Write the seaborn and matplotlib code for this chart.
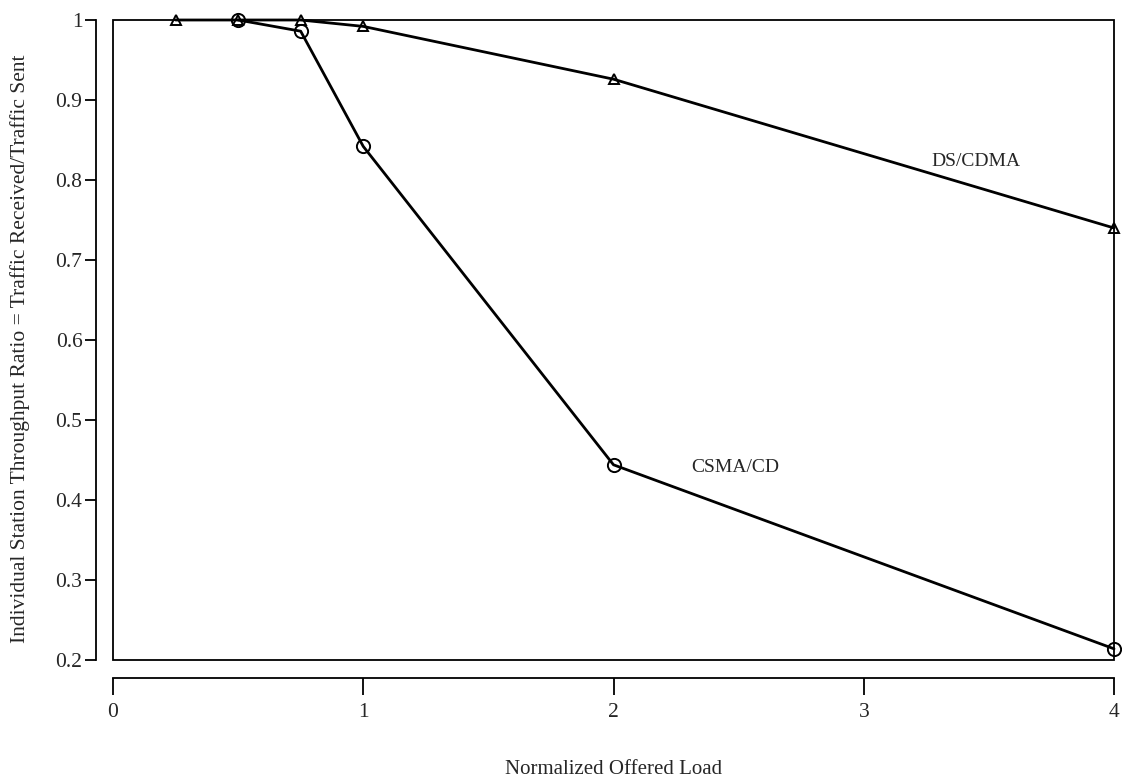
import numpy as np
import pandas as pd
import matplotlib
matplotlib.use("Agg")
import matplotlib.pyplot as plt
import seaborn as sns
from matplotlib.patches import Rectangle
from matplotlib.ticker import FuncFormatter

# Data
ds_load = [0.25, 0.5, 0.75, 1.0, 2.0, 4.0]
ds_ratio = [1.0, 1.0, 1.0, 0.992, 0.926, 0.740]
csma_load = [0.5, 0.75, 1.0, 2.0, 4.0]
csma_ratio = [1.0, 0.986, 0.842, 0.444, 0.214]
x_ticks = [0, 1, 2, 3, 4]
y_ticks = [0.2, 0.3, 0.4, 0.5, 0.6, 0.7, 0.8, 0.9, 1.0]

sns.set_style("white")
plt.rcParams['font.family'] = ['Liberation Serif', 'DejaVu Serif']

W, H = 1122, 780
L, R, T, B = 113, 1114, 20, 660
fig = plt.figure(figsize=(W / 100, H / 100), dpi=100)
ax = fig.add_axes([L / W, 1 - B / H, (R - L) / W, (B - T) / H])

ds_df = pd.DataFrame({"load": ds_load, "ratio": ds_ratio})
cs_df = pd.DataFrame({"load": csma_load, "ratio": csma_ratio})

sns.lineplot(data=ds_df, x="load", y="ratio", ax=ax, color="black", lw=2.0,
             marker="^", markersize=7, markerfacecolor="none",
             markeredgecolor="black", markeredgewidth=1.4, clip_on=False, zorder=3)
sns.lineplot(data=cs_df, x="load", y="ratio", ax=ax, color="black", lw=2.0,
             marker="o", markersize=9.5, markerfacecolor="none",
             markeredgecolor="black", markeredgewidth=1.4, clip_on=False, zorder=3)

ax.set_xlim(0, 4)
ax.set_ylim(0.2, 1.0)
ax.set_xticks(x_ticks)
ax.set_yticks(y_ticks)
ax.xaxis.set_major_formatter(FuncFormatter(lambda v, p: f"{v:g}"))
ax.yaxis.set_major_formatter(FuncFormatter(lambda v, p: f"{v:g}"))

for s in ["top", "right"]:
    ax.spines[s].set_visible(False)
ax.spines["left"].set_position(("outward", 12))
ax.spines["bottom"].set_position(("outward", 13))
for s in ["left", "bottom"]:
    ax.spines[s].set_linewidth(1.3)
    ax.spines[s].set_color("black")

ax.add_patch(Rectangle((0, 0), 1, 1, transform=ax.transAxes, fill=False,
                       edgecolor="black", lw=1.3, clip_on=False, zorder=1))

ax.tick_params(axis="x", direction="out", length=12, width=1.3, color="black",
               labelsize=15.5, pad=6, bottom=True)
ax.tick_params(axis="y", direction="out", length=8, width=1.3, color="black",
               labelsize=15.5, pad=2, left=True)

ax.set_xlabel("Normalized Offered Load", fontsize=15)
ax.xaxis.set_label_coords(0.5, -0.157)
ax.set_ylabel("Individual Station Throughput Ratio = Traffic Received/Traffic Sent",
              fontsize=15.5)
ax.yaxis.set_label_coords(-0.083, 0.486)

ax.text(3.27, 0.823, "DS/CDMA", fontsize=14, va="center", ha="left")
ax.text(2.31, 0.441, "CSMA/CD", fontsize=14, va="center", ha="left")

fig.savefig("out.png", dpi=100, facecolor="white")
